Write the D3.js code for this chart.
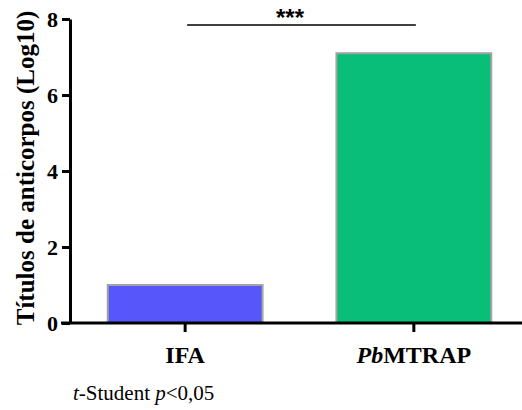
<!DOCTYPE html>
<html>
<head>
<meta charset="utf-8">
<script src="https://cdn.jsdelivr.net/npm/d3@7/dist/d3.min.js"></script>
<style>
  html, body { margin: 0; padding: 0; background: #fff; }
  svg { display: block; }
</style>
</head>
<body>
<svg id="chart" width="522" height="410"></svg>
<script>
// Antibody titres (log10) per group
const categories = ["IFA", "PbMTRAP"];
const titres = [1.0, 7.1];
const barColors = ["#5656fb", "#08be79"];
const yTicks = [0, 2, 4, 6, 8];
const yLabel = "Títulos de anticorpos (Log10)";
const significance = "***";
const footnote = [["t", "italic"], ["-Student ", "normal"], ["p", "italic"], ["<0,05", "normal"]];

const svg = d3.select("#chart");
const serif = "'Liberation Serif', 'Times New Roman', serif";

const x = d3.scaleBand()
  .domain(categories)
  .range([70, 529])
  .paddingInner(0.323)
  .paddingOuter(0.165);

const y = d3.scaleLinear().domain([0, 8]).range([323, 19]);

// bars
svg.append("g").selectAll("rect")
  .data(categories)
  .join("rect")
  .attr("x", d => x(d))
  .attr("y", (d, i) => y(titres[i]))
  .attr("width", x.bandwidth())
  .attr("height", (d, i) => y(0) - y(titres[i]))
  .attr("fill", (d, i) => barColors[i])
  .attr("stroke", "#a3a3a3")
  .attr("stroke-width", 2);

// y axis
const yAxis = svg.append("g")
  .attr("transform", "translate(70,0)")
  .call(d3.axisLeft(y).tickValues(yTicks).tickFormat(d3.format("d")).tickSize(8).tickPadding(4).tickSizeOuter(0));
yAxis.select(".domain").attr("stroke", "#000").attr("stroke-width", 3);
yAxis.selectAll(".tick line").attr("stroke", "#000").attr("stroke-width", 3);
yAxis.selectAll(".tick text")
  .style("font-family", serif).style("font-weight", "bold").style("font-size", "22px").attr("fill", "#000");

// x axis
const xAxis = svg.append("g")
  .attr("transform", "translate(0,323)")
  .call(d3.axisBottom(x).tickSize(9).tickSizeOuter(0).tickFormat(""));
xAxis.select(".domain").attr("d", "M61,0H522").attr("stroke", "#000").attr("stroke-width", 3);
xAxis.selectAll(".tick line").attr("stroke", "#000").attr("stroke-width", 3);

// x labels ("Pb" in italics)
const xl = svg.append("g").selectAll("text")
  .data(categories)
  .join("text")
  .attr("x", d => x(d) + x.bandwidth() / 2)
  .attr("y", 363)
  .attr("text-anchor", "middle")
  .style("font-family", serif)
  .style("font-weight", "bold")
  .style("font-size", "24px")
  .attr("fill", "#000");
xl.each(function(d) {
  const t = d3.select(this);
  if (d.startsWith("Pb")) {
    t.append("tspan").style("font-style", "italic").text("Pb");
    t.append("tspan").text(d.slice(2));
  } else {
    t.text(d);
  }
});

// y title
svg.append("text")
  .attr("transform", "translate(34,168) rotate(-90)")
  .attr("text-anchor", "middle")
  .style("font-family", serif)
  .style("font-weight", "bold")
  .style("font-size", "25px")
  .attr("fill", "#000")
  .text(yLabel);

// significance bracket
const cx = categories.map(d => x(d) + x.bandwidth() / 2);
svg.append("line")
  .attr("x1", cx[0] + 2).attr("x2", cx[1] + 2)
  .attr("y1", 25).attr("y2", 25)
  .attr("stroke", "#000").attr("stroke-width", 1.6);
svg.append("text")
  .attr("x", 290).attr("y", 26)
  .attr("text-anchor", "middle")
  .style("font-family", "'Liberation Sans', Arial, sans-serif")
  .style("font-weight", "bold")
  .style("font-size", "24px")
  .attr("fill", "#000")
  .text(significance);

// footnote
const fn = svg.append("text")
  .attr("x", 73).attr("y", 400)
  .style("font-family", serif)
  .style("font-size", "21px")
  .attr("fill", "#000");
footnote.forEach(([s, style]) => fn.append("tspan").style("font-style", style).text(s));
</script>
</body>
</html>
